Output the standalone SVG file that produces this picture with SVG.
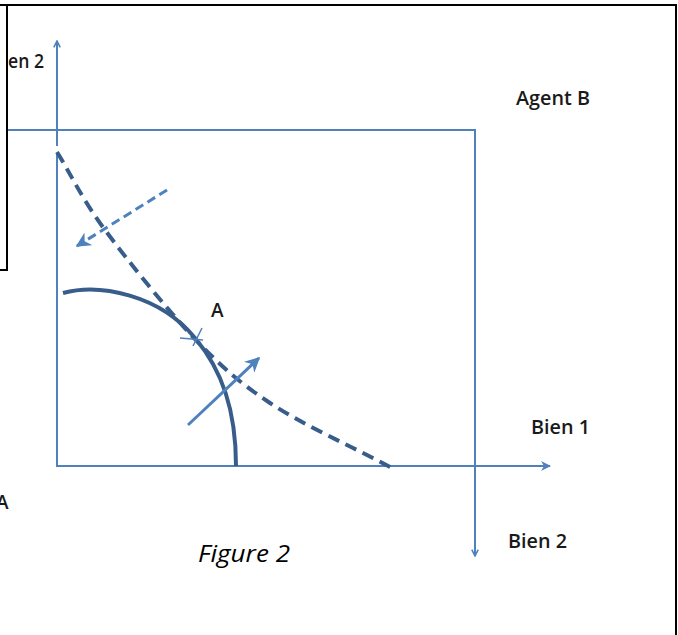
<svg xmlns="http://www.w3.org/2000/svg" width="678" height="635" viewBox="0 0 678 635">
<defs>
<style>
.frame{stroke:#000;stroke-width:2;fill:none}
.axis{stroke:#4f81bd;stroke-width:2;fill:none}
.dark{stroke:#385d8a;stroke-width:4;fill:none}
.lab{font-family:"Open Sans","Liberation Sans",sans-serif;font-weight:600;fill:#1a1a1a}
.fig{font-family:"Open Sans","Liberation Sans",sans-serif;font-style:italic;fill:#000}
</style>
<marker id="open" viewBox="0 0 10 10" refX="9" refY="5" markerWidth="8" markerHeight="8" markerUnits="userSpaceOnUse" orient="auto">
<path d="M1,1 L9,5 L1,9" fill="none" stroke="#4f81bd" stroke-width="2"/>
</marker>
<marker id="fill" viewBox="0 0 10 10" refX="9" refY="5" markerWidth="10" markerHeight="10" markerUnits="userSpaceOnUse" orient="auto">
<path d="M0,0 L10,5 L0,10 L3,5 Z" fill="#4f81bd"/>
</marker>
<marker id="fillBig" viewBox="0 0 10 10" refX="9" refY="5" markerWidth="15" markerHeight="15" markerUnits="userSpaceOnUse" orient="auto">
<path d="M0,0 L10,5 L0,10 L3,5 Z" fill="#4f81bd"/>
</marker>
</defs>
<rect width="678" height="635" fill="#fff"/>
<g id="frame">
<line class="frame" x1="0" y1="5" x2="677" y2="5"/>
<line class="frame" x1="676" y1="5" x2="676" y2="635"/>
<line class="frame" x1="7" y1="5" x2="7" y2="271"/>
<line class="frame" x1="0" y1="270" x2="8" y2="270"/>
</g>
<g id="connectors">
<g id="axes-A">
<line class="axis" x1="57" y1="146" x2="57" y2="41" marker-end="url(#open)"/>
<line class="axis" x1="57" y1="153" x2="57" y2="466"/>
<line class="axis" x1="56" y1="466" x2="550" y2="466" marker-end="url(#fill)"/>
</g>
<g id="axes-B">
<line class="axis" x1="8" y1="130" x2="476" y2="130"/>
<line class="axis" x1="475" y1="129" x2="475" y2="556" marker-end="url(#open)"/>
</g>
<path id="budget-line" class="dark" stroke-dasharray="12 7" d="M57,152 C73,178 82,199 105,230 C128,261 166,308 193,337 C221,366 237,381 270,403 C303,425 351,446 392,468"/>
<path id="indifference-curve" class="dark" d="M63,293 C100,283 160,295 195,338 C222,370 236,410 236,466"/>
<g id="tangent-mark" stroke="#4f81bd" stroke-width="1.5">
<line x1="180" y1="338" x2="203" y2="340"/>
<line x1="193" y1="346" x2="202" y2="328"/>
</g>
<line id="arrow-A" stroke="#4f81bd" stroke-width="3" x1="188" y1="425" x2="259" y2="358" marker-end="url(#fillBig)"/>
<line id="arrow-B" stroke="#4f81bd" stroke-width="3" stroke-dasharray="9 5" x1="167" y1="190" x2="77" y2="246" marker-end="url(#fillBig)"/>
</g>
<g id="labels">
<text class="lab" x="516" y="105" font-size="19.5" textLength="74" lengthAdjust="spacingAndGlyphs">Agent B</text>
<text class="lab" x="531" y="434" font-size="19.5" textLength="59" lengthAdjust="spacingAndGlyphs">Bien 1</text>
<text class="lab" x="508" y="548" font-size="19.5" textLength="59" lengthAdjust="spacingAndGlyphs">Bien 2</text>
<text class="lab" x="8" y="68" font-size="19.5" textLength="36" lengthAdjust="spacingAndGlyphs">en 2</text>
<text class="lab" x="211" y="317" font-size="19">A</text>
<text class="lab" x="-4" y="509" font-size="19">A</text>
<text class="fig" x="198" y="562" font-size="23" textLength="92" lengthAdjust="spacingAndGlyphs">Figure 2</text>
</g>
</svg>
